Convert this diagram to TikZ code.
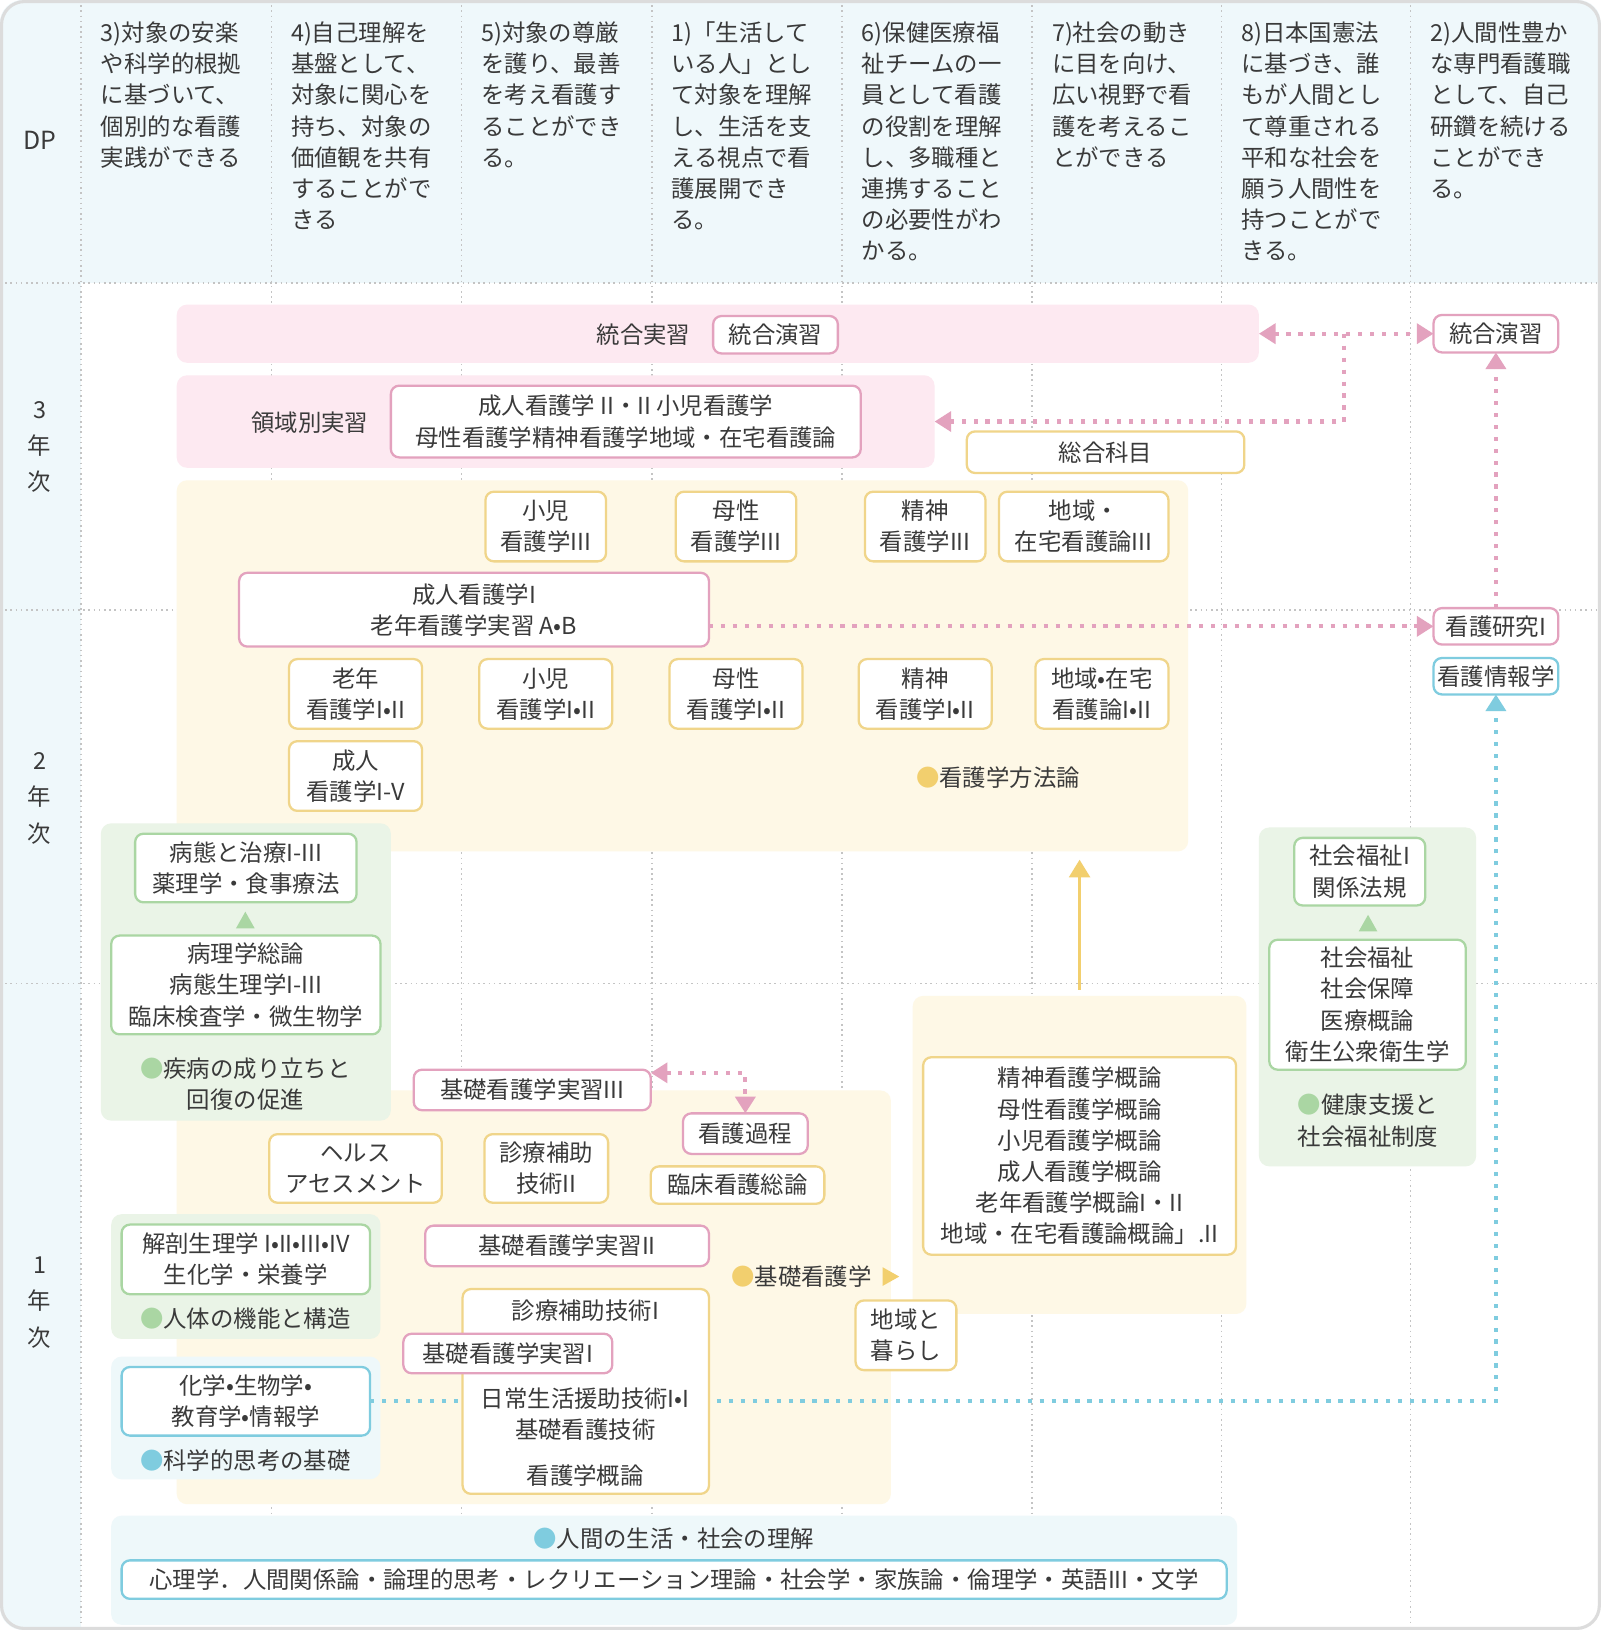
\documentclass[tikz,border=0pt]{standalone}
\usepackage{fontspec}
\setmainfont{Noto Sans CJK JP}
\usetikzlibrary{arrows.meta,calc}
\definecolor{txt}{HTML}{3A3A3A}
\definecolor{hdr}{HTML}{EFF8FB}
\definecolor{gridc}{HTML}{C4C4C4}
\definecolor{framec}{HTML}{DCDCDC}
\definecolor{pinkb}{HTML}{E3A2BE}
\definecolor{pinkp}{HTML}{FDE9F1}
\definecolor{yelb}{HTML}{F0D58A}
\definecolor{yelp}{HTML}{FEF8E6}
\definecolor{yeld}{HTML}{F2CF6E}
\definecolor{grnb}{HTML}{AAD6A3}
\definecolor{grnp}{HTML}{EAF4E7}
\definecolor{blub}{HTML}{7FCCDF}
\definecolor{blup}{HTML}{EEF8FA}
\pgfdeclarelayer{bg}\pgfdeclarelayer{mid}\pgfsetlayers{bg,mid,main}
\newcommand\BX[7]{\node[#1,minimum width={#5-#3},minimum height={#6-#4}] (#2) at ({(#3+#5)/2},{(#4+#6)/2}) {#7};}
\newcommand\mydot[1]{{\color{#1}●}}
\begin{document}
\begin{tikzpicture}[x=1pt,y=-1pt,
 every node/.style={font=\fontsize{22.5}{30}\selectfont,text=txt,inner sep=0pt,outer sep=0pt,align=center},
 basebx/.style={draw,line width=2.2pt,rounded corners=8pt,fill=white},
 pbx/.style={basebx,draw=pinkb}, ybx/.style={basebx,draw=yelb},
 gbx/.style={basebx,draw=grnb}, bbx/.style={basebx,draw=blub},
 pnl/.style={rounded corners=10pt,draw=none},
 arrend/.style={-{Triangle[width=19pt,length=16pt]}},
 arrboth/.style={{Triangle[width=19pt,length=16pt]}-{Triangle[width=19pt,length=16pt]}},
 pinkdot/.style={draw=pinkb,line width=4pt,dash pattern=on 4pt off 7.5pt},
 bludot/.style={draw=blub,line width=4pt,dash pattern=on 4pt off 7.5pt},
 gridln/.style={draw=gridc,line width=1.5pt,dash pattern=on 1.5pt off 3.5pt},
 hdtext/.style={anchor=north west,align=left}]
\useasboundingbox (0,0) rectangle (1540,1568);

\begin{pgfonlayer}{bg}
\begin{scope}
\clip[rounded corners=22pt] (0,0) rectangle (1540,1568);
\fill[white] (0,0) rectangle (1540,1568);
\fill[hdr] (0,0) rectangle (1540,272);
\fill[hdr] (0,0) rectangle (78,1568);
\end{scope}
\foreach \x in {78,261,444,627,810,993,1175,1357} \draw[gridln] (\x,0) -- (\x,1568);
\foreach \y in {272,587,946} \draw[gridln] (0,\y) -- (1540,\y);
% panels
\BX{pnl,fill=pinkp}{band1}{170}{293}{1211}{349}{}
\BX{pnl,fill=pinkp}{band2}{170}{361}{899}{450}{}
\BX{pnl,fill=yelp}{pnlA}{170}{462}{1143}{819}{}
\BX{pnl,fill=yelp}{pnlB}{170}{1049}{857}{1447}{}
\BX{pnl,fill=yelp}{pnlC}{878}{958}{1199}{1264}{}
\BX{pnl,fill=grnp}{pnlG1}{97}{792}{376}{1078}{}
\BX{pnl,fill=grnp}{pnlG2}{1211}{796}{1420}{1122}{}
\BX{pnl,fill=grnp}{pnlG3}{107}{1168}{366}{1288}{}
\BX{pnl,fill=blup}{pnlB1}{107}{1305}{366}{1423}{}
\BX{pnl,fill=blup}{pnlB2}{107}{1458}{1190}{1563}{}
\end{pgfonlayer}

% header
\node[font=\fontsize{24}{30}\selectfont] (dp) at (38,135) {DP};
\node[hdtext] (h1) at (97,21) {3)対象の安楽\\や科学的根拠\\に基づいて、\\個別的な看護\\実践ができる};
\node[hdtext] (h2) at (280,21) {4)自己理解を\\基盤として、\\対象に関心を\\持ち、対象の\\価値観を共有\\することがで\\きる};
\node[hdtext] (h3) at (463,21) {5)対象の尊厳\\を護り、最善\\を考え看護す\\ることができ\\る。};
\node[hdtext] (h4) at (646,21) {1)「生活して\\いる人」とし\\て対象を理解\\し、生活を支\\える視点で看\\護展開でき\\る。};
\node[hdtext] (h5) at (829,21) {6)保健医療福\\祉チームの一\\員として看護\\の役割を理解\\し、多職種と\\連携すること\\の必要性がわ\\かる。};
\node[hdtext] (h6) at (1012,21) {7)社会の動き\\に目を向け、\\広い視野で看\\護を考えるこ\\とができる};
\node[hdtext] (h7) at (1194,21) {8)日本国憲法\\に基づき、誰\\もが人間とし\\て尊重される\\平和な社会を\\願う人間性を\\持つことがで\\きる。};
\node[hdtext] (h8) at (1376,21) {2)人間性豊か\\な専門看護職\\として、自己\\研鑽を続ける\\ことができ\\る。};

% year labels
\node[font=\fontsize{22.5}{35}\selectfont] (y3) at (38,430) {3\\年\\次};
\node[font=\fontsize{22.5}{35}\selectfont] (y2) at (38,768) {2\\年\\次};
\node[font=\fontsize{22.5}{35}\selectfont] (y1) at (38,1253) {1\\年\\次};

% year 3
\node (ltg) at (619,322) {統合実習};
\BX{pbx}{tg}{686}{304}{806}{340}{統合演習}
\node (lry) at (298,407) {領域別実習};
\BX{pbx}{ry}{376}{371}{828}{440}{成人看護学 II・II 小児看護学\\母性看護学精神看護学地域・在宅看護論}
\BX{ybx}{sg}{930}{415}{1197}{455}{総合科目}
\BX{pbx}{rtg}{1379}{303}{1499}{339}{統合演習}

\BX{ybx}{sho3}{467}{473}{583}{540}{小児\\看護学III}
\BX{ybx}{bo3}{650}{473}{766}{540}{母性\\看護学III}
\BX{ybx}{sei3}{832}{473}{948}{540}{精神\\看護学III}
\BX{ybx}{chi3}{961}{473}{1124}{540}{地域・\\在宅看護論III}
\BX{pbx}{seijin}{230}{551}{682}{622}{成人看護学I\\老年看護学実習 A•B}
\BX{ybx}{ro12}{278}{634}{406}{701}{老年\\看護学I•II}
\BX{ybx}{sho12}{461}{634}{589}{701}{小児\\看護学I•II}
\BX{ybx}{bo12}{644}{634}{772}{701}{母性\\看護学I•II}
\BX{ybx}{sei12}{826}{634}{954}{701}{精神\\看護学I•II}
\BX{ybx}{chi12}{996}{634}{1124}{701}{地域•在宅\\看護論I•II}
\BX{ybx}{sj15}{278}{713}{406}{780}{成人\\看護学I-V}
\node (lhh) at (960,748) {\mydot{yeld}看護学方法論};
\BX{pbx}{kenkyu}{1379}{585}{1499}{620}{看護研究I}
\BX{bbx}{joho}{1379}{633}{1499}{668}{看護情報学}

% green left
\BX{gbx}{byotai}{130}{802}{343}{868}{病態と治療I-III\\薬理学・食事療法}
\BX{gbx}{byori}{107}{900}{366}{995}{病理学総論\\病態生理学I-III\\臨床検査学・微生物学}
\fill[grnb] (227,893) -- (245,893) -- (236,877) -- cycle;
\node (lsp) at (236,1043) {\mydot{grnb}疾病の成り立ちと\\回復の促進};

% green right
\BX{gbx}{fk1}{1245}{806}{1371}{871}{社会福祉I\\関係法規}
\BX{gbx}{fk}{1221}{904}{1410}{1029}{社会福祉\\社会保障\\医療概論\\衛生公衆衛生学}
\fill[grnb] (1307,896) -- (1325,896) -- (1316,880) -- cycle;
\node (lkk) at (1316,1078) {\mydot{grnb}健康支援と\\社会福祉制度};

% year 1
\BX{pbx}{j3}{398}{1029}{626}{1068}{基礎看護学実習III}
\BX{pbx}{katei}{657}{1071}{777}{1110}{看護過程}
\BX{ybx}{rinsho}{626}{1122}{793}{1158}{臨床看護総論}
\BX{ybx}{health}{259}{1091}{425}{1157}{ヘルス\\アセスメント}
\BX{ybx}{shin2}{466}{1091}{585}{1157}{診療補助\\技術II}
\BX{pbx}{j2}{409}{1179}{682}{1218}{基礎看護学実習II}
\node (lkiso) at (771,1228) {\mydot{yeld}基礎看護学};
\fill[yeld] (849,1219) -- (849,1237) -- (865,1228) -- cycle;
\BX{ybx}{big}{445}{1240}{682}{1437}{}
\node (t1) at (563,1261) {診療補助技術I};
\node (t2) at (563,1360.5) {日常生活援助技術I•I\\基礎看護技術};
\node (t3) at (563,1419) {看護学概論};
\BX{pbx}{j1}{388}{1283}{589}{1321}{基礎看護学実習I}
\BX{ybx}{kurashi}{823}{1251}{920}{1318}{地域と\\暮らし}
\BX{ybx}{gairon}{888}{1017}{1189}{1207}{精神看護学概論\\母性看護学概論\\小児看護学概論\\成人看護学概論\\老年看護学概論I・II\\地域・在宅看護論概論」.II}

\BX{gbx}{kaibou}{117}{1178}{356}{1245}{解剖生理学 I•II•III•IV\\生化学・栄養学}
\node (ljt) at (236,1268) {\mydot{grnb}人体の機能と構造};
\BX{bbx}{kagaku}{117}{1315}{356}{1381}{化学•生物学•\\教育学•情報学}
\node (lkg) at (236,1405) {\mydot{blub}科学的思考の基礎};
\node (lng) at (648,1480) {\mydot{blub}人間の生活・社会の理解};
\BX{bbx}{bottom}{117}{1501}{1180}{1538}{\fontsize{22.5}{30}\selectfont 心理学．人間関係論・論理的思考・レクリエーション理論・社会学・家族論・倫理学・英語III・文学}

% connectors
\begin{pgfonlayer}{mid}
\draw[pinkdot,arrboth] (band1.east) -- (rtg.west);
\coordinate (jn) at (1293,321);
\draw[pinkdot,arrend] (jn) |- (band2.east);
\draw[pinkdot,arrend] (seijin.east |- kenkyu.west) -- (kenkyu.west);
\draw[pinkdot,arrend] (kenkyu.north) -- (rtg.south);
\draw[bludot,arrend] (kagaku.east) -| (joho.south);
\draw[pinkdot,arrboth] ([yshift=-3pt]j3.north east) -| (katei.north);
\draw[yeld,line width=3pt,-{Triangle[width=20pt,length=17pt]}] ([yshift=6pt]pnlC.north) -- (pnlC.north |- 0,827);
\end{pgfonlayer}

\draw[framec,line width=3pt,rounded corners=22pt] (1.5,1.5) rectangle (1538.5,1566.5);
\end{tikzpicture}
\end{document}
